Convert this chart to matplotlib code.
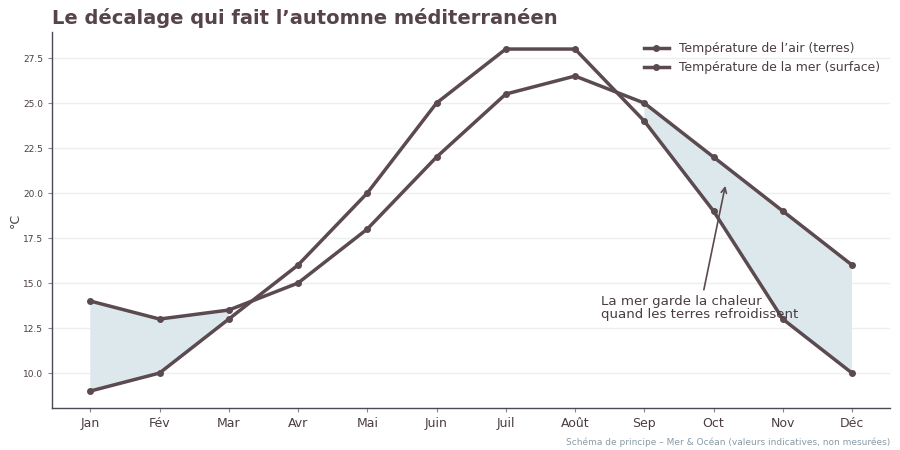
import numpy as np
import matplotlib.pyplot as plt

# Données (valeurs indicatives)
mois = ['Jan', 'Fév', 'Mar', 'Avr', 'Mai', 'Juin', 'Juil', 'Août', 'Sep', 'Oct', 'Nov', 'Déc']
temp_air = [9, 10, 13, 16, 20, 25, 28, 28, 24, 19, 13, 10]
temp_mer = [14, 13, 13.5, 15, 18, 22, 25.5, 26.5, 25, 22, 19, 16]

line_color = '#5b4a50'
fill_color = '#dde8ed'
text_color = '#4a3d42'

fig = plt.figure(figsize=(9, 4.5), dpi=100)
ax = fig.add_axes([0.058, 0.093, 0.931, 0.836])

x = np.arange(len(mois))
air = np.array(temp_air)
mer = np.array(temp_mer)

ax.fill_between(x, air, mer, where=mer >= air, color=fill_color, linewidth=0, zorder=1)
ax.plot(x, air, color=line_color, linewidth=2.5, marker='o', markersize=4,
        label="Température de l’air (terres)", zorder=3)
ax.plot(x, mer, color=line_color, linewidth=2.5, marker='o', markersize=4,
        label="Température de la mer (surface)", zorder=3)

ax.set_xticks(x)
ax.set_xticklabels(mois, fontsize=9, color=text_color)
ax.set_yticks([10, 12.5, 15, 17.5, 20, 22.5, 25, 27.5])
ax.set_yticklabels(['10.0', '12.5', '15.0', '17.5', '20.0', '22.5', '25.0', '27.5'],
                   fontsize=6.5, color=text_color)
ax.tick_params(axis='both', length=3, color='#888888')
ax.set_ylabel('°C', fontsize=9, color=text_color, labelpad=1)

ax.grid(True, axis='y', color='#eeeeee', linewidth=1)
ax.set_axisbelow(True)
for side in ['top', 'right']:
    ax.spines[side].set_visible(False)
for side in ['left', 'bottom']:
    ax.spines[side].set_color('#4a4a55')
    ax.spines[side].set_linewidth(1)

ax.legend(loc='upper right', bbox_to_anchor=(0.995, 0.99), frameon=False, fontsize=8.9,
          labelcolor=text_color, handlelength=2.0, borderaxespad=0.1)

ax.annotate('La mer garde la chaleur\nquand les terres refroidissent',
            xy=(9.17, 20.4), xytext=(7.38, 13.6),
            fontsize=9.6, color=text_color, ha='left', va='center',
            linespacing=1.0,
            arrowprops=dict(arrowstyle='->', color=line_color, lw=1.2,
                            shrinkA=2, shrinkB=0))

fig.text(0.058, 0.96, 'Le décalage qui fait l’automne méditerranéen',
         fontsize=14, fontweight='bold', color='#564449', ha='left', va='center')
fig.text(0.989, 0.018, 'Schéma de principe – Mer & Océan (valeurs indicatives, non mesurées)',
         fontsize=6.5, color='#8a9aa5', ha='right', va='center')

plt.savefig('out.png', dpi=100)
